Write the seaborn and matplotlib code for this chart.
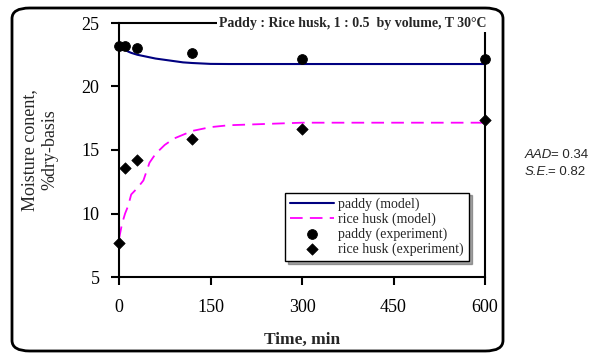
import matplotlib
matplotlib.use("Agg")
import matplotlib.pyplot as plt
from matplotlib.patches import FancyBboxPatch
import seaborn as sns
import pandas as pd

# ---- data ----
t_model = [0, 5, 10, 15, 20, 30, 40, 50, 60, 75, 90, 105, 120, 150, 180, 240, 300, 360, 420, 480, 540, 600]
paddy_model = [23.2, 23.05, 22.9, 22.75, 22.65, 22.5, 22.4, 22.3, 22.2, 22.1, 22.0, 21.9, 21.85, 21.78, 21.77,
               21.77, 21.77, 21.77, 21.77, 21.77, 21.77, 21.77]
husk_model = [8.0, 9.2, 10.0, 10.6, 11.5, 12.0, 12.6, 14.0, 14.7, 15.4, 15.9, 16.2, 16.5, 16.8, 16.95,
              17.05, 17.15, 17.15, 17.15, 17.15, 17.15, 17.15]
t_exp = [0, 10, 30, 120, 300, 600]
paddy_exp = [23.2, 23.2, 23.0, 22.6, 22.2, 22.2]
husk_exp = [7.7, 13.6, 14.2, 15.9, 16.65, 17.4]
x_ticks = [0, 150, 300, 450, 600]
y_ticks = [5, 10, 15, 20, 25]
title_text = "Paddy : Rice husk, 1 : 0.5  by volume, T 30\u00b0C"

sns.set_style("white")
plt.rcParams['font.family'] = ['Liberation Serif', 'DejaVu Serif']

fig = plt.figure(figsize=(5.9, 3.53), dpi=100)
W, H = 590, 353
ax = fig.add_axes([119 / W, 1 - 277 / H, (485 - 119) / W, (277 - 23) / H])

dfm = pd.DataFrame({"t": t_model, "paddy": paddy_model, "husk": husk_model})
dfe = pd.DataFrame({"t": t_exp, "paddy": paddy_exp, "husk": husk_exp})

sns.lineplot(data=dfm, x="t", y="paddy", ax=ax, color="#000080", lw=1.5, label="paddy (model)")
sns.lineplot(data=dfm, x="t", y="husk", ax=ax, color="#FF00FF", lw=1.3,
             label="rice husk (model)")
ax.lines[-1].set_dashes((7, 4))
sns.scatterplot(data=dfe, x="t", y="paddy", ax=ax, color="black", marker="o", s=50,
                edgecolor="black", label="paddy (experiment)", zorder=5, clip_on=False)
sns.scatterplot(data=dfe, x="t", y="husk", ax=ax, color="black", marker="D", s=34,
                edgecolor="black", label="rice husk (experiment)", zorder=5, clip_on=False)

ax.set_xlim(0, 600)
ax.set_ylim(5, 25)
ax.set_xticks(x_ticks)
ax.set_yticks(y_ticks)
for s in ax.spines.values():
    s.set_color("black")
    s.set_linewidth(1.5)
ax.tick_params(axis="both", direction="out", length=6, width=1.5, colors="black",
               labelsize=13, pad=8, bottom=True, left=True)
ax.tick_params(axis="x", pad=10)
ax.set_xlabel("Time, min", fontsize=12.5, fontweight="bold")
ax.set_ylabel("Moisture conent,\n%dry-basis", fontsize=13, linespacing=1.3)
ax.yaxis.set_label_coords(-0.165, 0.5)
ax.xaxis.set_label_coords(0.5, -0.215)

ax.text(0.64, 1.0, title_text, transform=ax.transAxes, ha="center", va="center",
        fontsize=10, fontweight="bold", zorder=10,
        bbox=dict(facecolor="white", edgecolor="none", pad=2))

leg = ax.legend(loc="lower right", bbox_to_anchor=(0.975, 0.035), fontsize=10,
                frameon=True, fancybox=False, shadow=True, edgecolor="black",
                borderpad=0.35, labelspacing=0.12, handlelength=3.2, handletextpad=0.3)
leg.get_frame().set_linewidth(1.0)

# outer rounded frame
frame = FancyBboxPatch((12 / W, 1 - 351 / H), (503 - 12) / W, (351 - 8) / H,
                       boxstyle="round,pad=0,rounding_size=0.03", transform=fig.transFigure,
                       facecolor="none", edgecolor="black", linewidth=2, zorder=0)
fig.patches.append(frame)

fig.text(525 / W, 1 - 155 / H, "AAD", fontsize=9.5, style="italic", family="Liberation Sans", va="center")
fig.text(551 / W, 1 - 155 / H, "= 0.34", fontsize=9.5, family="Liberation Sans", va="center")
fig.text(525 / W, 1 - 172 / H, "S.E.", fontsize=9.5, style="italic", family="Liberation Sans", va="center")
fig.text(548 / W, 1 - 172 / H, "= 0.82", fontsize=9.5, family="Liberation Sans", va="center")

fig.savefig("out.png", dpi=100)
